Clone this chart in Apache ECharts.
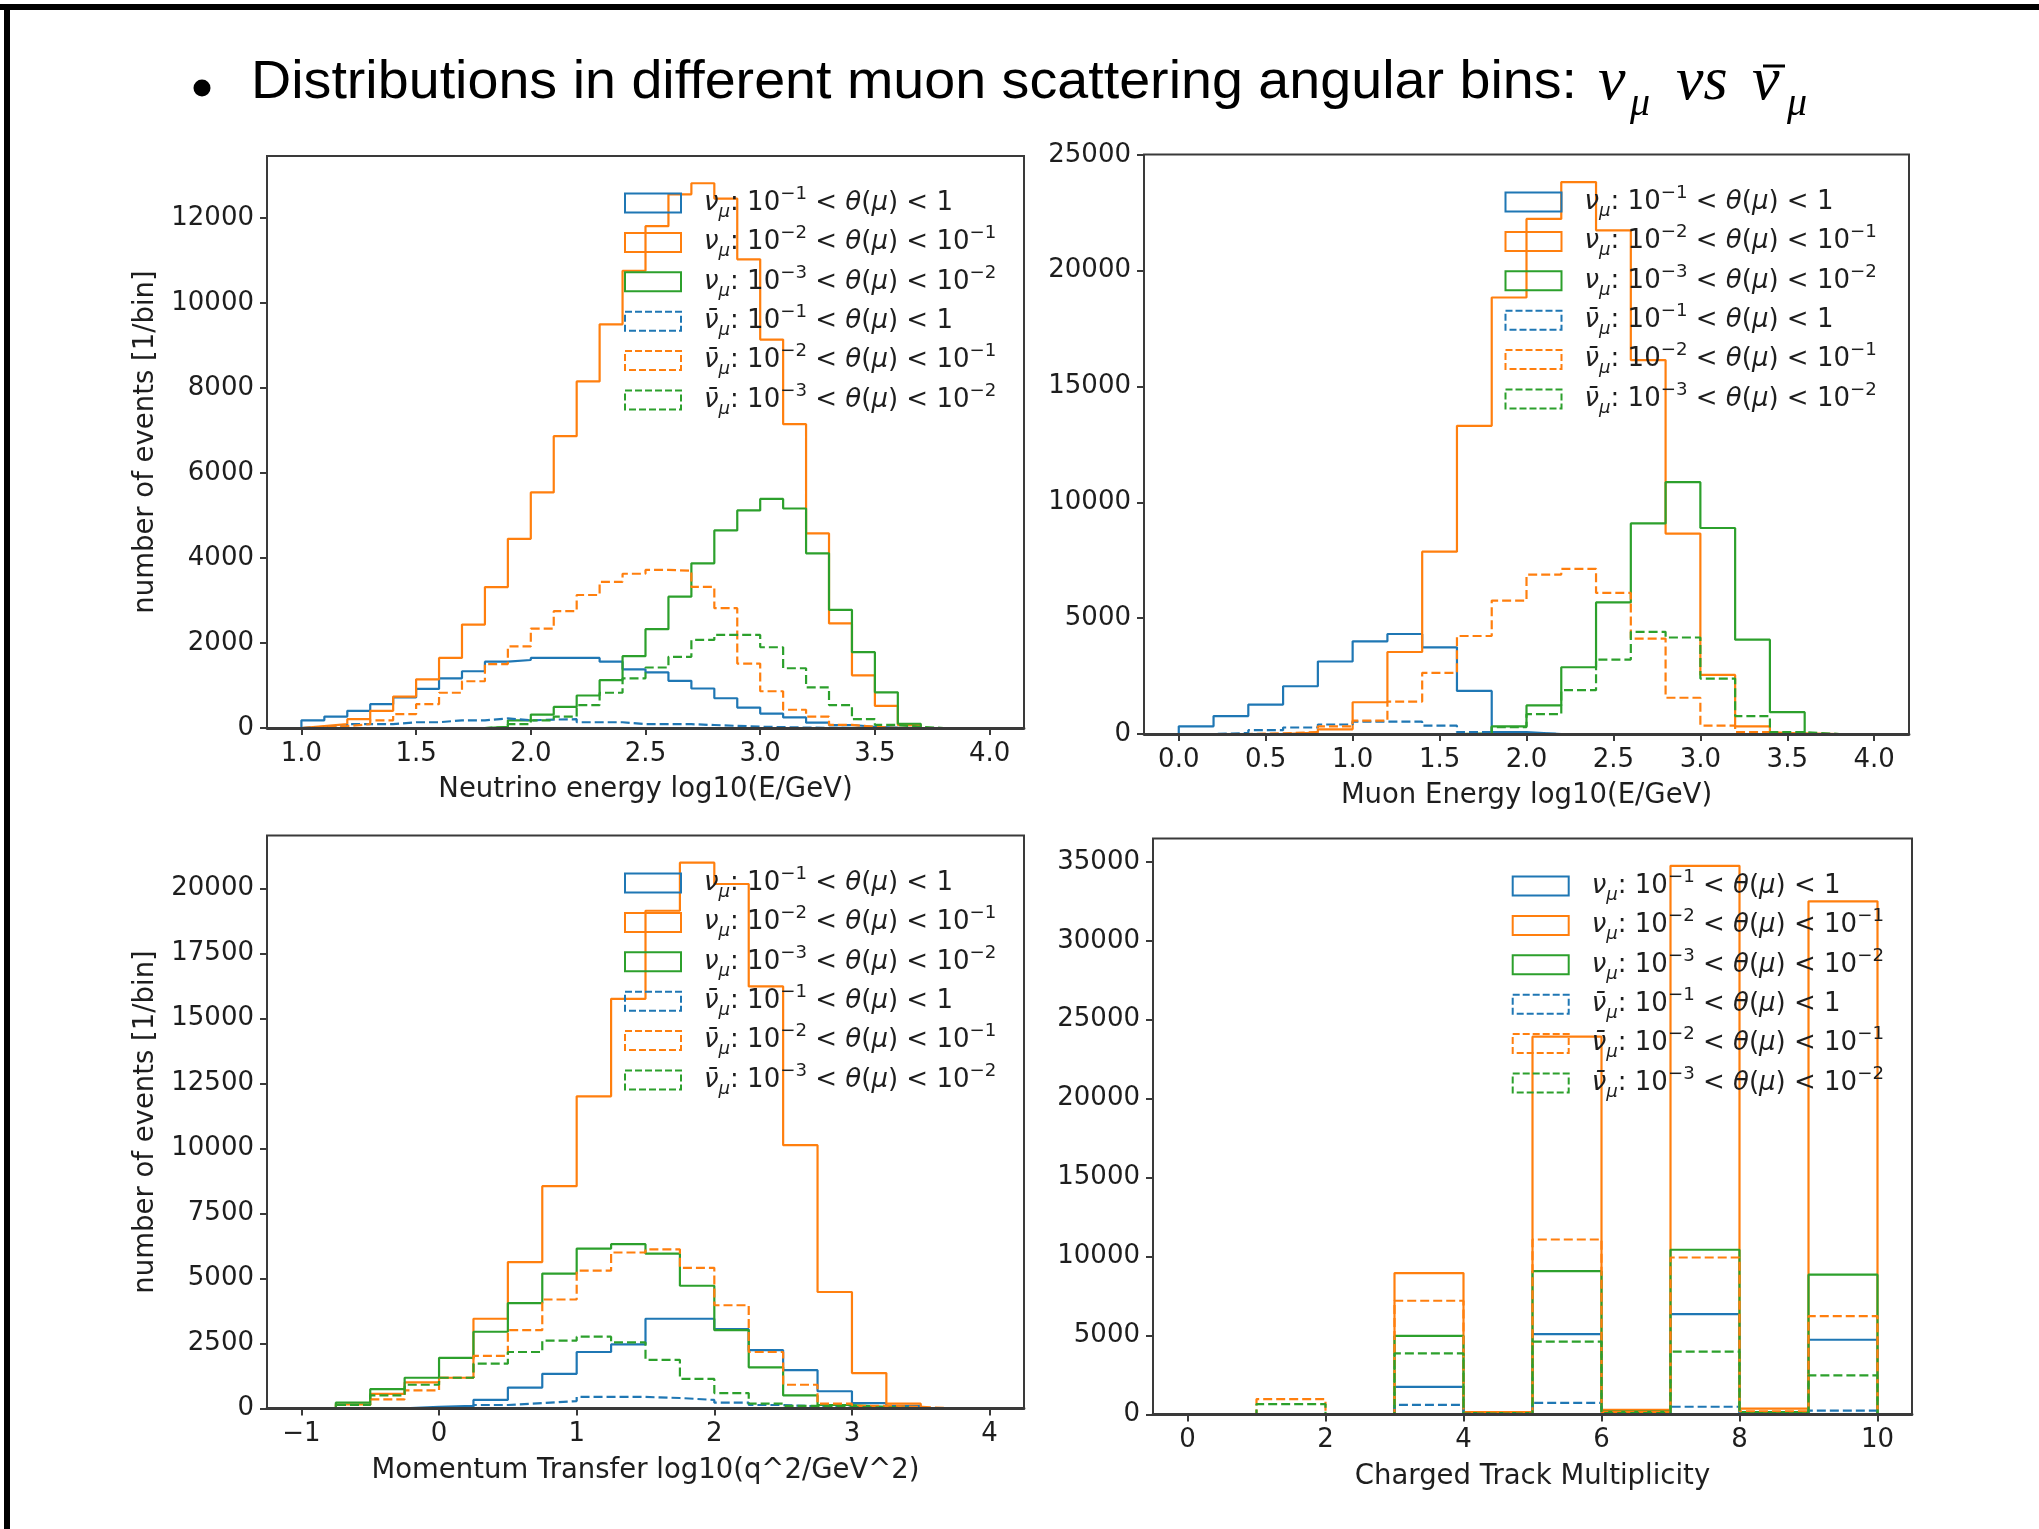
<!DOCTYPE html>
<html>
<head>
<meta charset="utf-8">
<script src="https://cdn.jsdelivr.net/npm/echarts@6/dist/echarts.min.js"></script>
<style>
  html, body { margin: 0; padding: 0; background: #ffffff; }
  #main { width: 2039px; height: 1529px; }
</style>
</head>
<body>
<div id="main"></div>
<script>
// ---------- Neutrino energy, log10(E/GeV), 0.1 bins ----------
const enuEdges = [1.0,1.1,1.2,1.3,1.4,1.5,1.6,1.7,1.8,1.9,2.0,2.1,2.2,2.3,2.4,2.5,2.6,2.7,2.8,2.9,3.0,3.1,3.2,3.3,3.4,3.5,3.6,3.7,3.8,3.9,4.0];
const enuNuWide    = [180,270,405,560,720,920,1170,1335,1560,1600,1650,1650,1650,1560,1380,1310,1110,930,700,480,340,250,125,70,30,10,0,0,0,0];
const enuNuMid     = [45,90,207,405,740,1145,1650,2434,3317,4452,5543,6868,8157,9500,10760,11810,12560,12820,12460,11030,9140,7150,4580,2460,1240,520,70,0,0,0];
const enuNuNarrow  = [0,0,0,0,0,0,0,0,30,180,315,495,765,1125,1690,2325,3090,3875,4650,5120,5390,5165,4110,2780,1785,840,100,0,0,0];
const enuNubWide   = [18,36,90,90,135,135,180,180,225,180,198,207,135,135,90,90,90,70,50,30,20,10,5,0,0,0,0,0,0,0];
const enuNubMid    = [27,45,90,180,325,560,830,1100,1505,1920,2340,2750,3130,3440,3630,3720,3700,3320,2820,1515,865,430,270,72,27,0,0,0,0,0];
const enuNubNarrow = [0,0,0,0,0,0,0,0,20,90,180,270,540,830,1170,1424,1676,2073,2190,2190,1900,1406,955,540,207,72,27,0,0,0];

// ---------- Muon energy, log10(E/GeV), 0.2 bins ----------
const emuEdges = [0.0,0.2,0.4,0.6,0.8,1.0,1.2,1.4,1.6,1.8,2.0,2.2,2.4,2.6,2.8,3.0,3.2,3.4,3.6,3.8,4.0];
const emuNuWide    = [330,775,1270,2060,3130,4000,4315,3740,1860,80,0,0,0,0,0,0,0,0,0,0];
const emuNuMid     = [0,0,0,60,200,1370,3540,7870,13300,18840,22230,23820,21740,16140,8650,2550,330,30,0,0];
const emuNuNarrow  = [0,0,0,0,0,0,0,0,30,330,1235,2880,5680,9090,10870,8890,4070,940,0,0];
const emuNubWide   = [0,40,165,280,410,530,530,360,80,10,0,0,0,0,0,0,0,0,0,0];
const emuNubMid    = [0,0,30,80,330,575,1400,2640,4230,5760,6880,7130,6090,4120,1565,360,80,0,0,0];
const emuNubNarrow = [0,0,0,0,0,0,0,0,0,300,855,1890,3210,4410,4165,2390,775,80,0,0];

// ---------- Momentum transfer, log10(q^2/GeV^2), 0.25 bins ----------
const q2Edges = [-1.0,-0.75,-0.5,-0.25,0.0,0.25,0.5,0.75,1.0,1.25,1.5,1.75,2.0,2.25,2.5,2.75,3.0,3.25,3.5,3.75,4.0];
const q2NuWide    = [0,0,0,60,100,325,800,1330,2170,2460,3450,3450,3050,2240,1470,660,200,100,0,0];
const q2NuMid     = [0,150,560,1000,1180,3450,5630,8550,12010,15760,19150,21000,20180,16240,10130,4480,1360,180,0,0];
const q2NuNarrow  = [0,220,740,1180,1945,2950,4050,5190,6150,6320,5955,4720,3010,1580,500,130,60,0,0,0];
const q2NubWide   = [0,0,0,0,30,130,205,280,440,440,400,325,220,130,75,30,15,0,0,0];
const q2NubMid    = [0,130,350,690,1180,2020,3010,4190,5300,6000,6120,5410,3970,2170,910,180,100,60,0,0];
const q2NubNarrow = [0,130,500,910,1180,1720,2170,2610,2760,2540,1870,1135,590,180,100,60,30,0,0,0];

// ---------- Charged track multiplicity, unit bins ----------
const multEdges = [0,1,2,3,4,5,6,7,8,9,10];
const multNuWide    = [0,0,0,1745,30,5090,60,6350,60,4730];
const multNuMid     = [0,0,0,8950,150,23930,290,34750,360,32500];
const multNuNarrow  = [0,0,0,4970,80,9070,170,10430,150,8850];
const multNubWide   = [0,0,0,605,10,730,20,485,20,240];
const multNubMid    = [0,970,0,7200,100,11080,150,9940,200,6230];
const multNubNarrow = [0,655,0,3860,50,4610,80,3980,80,2470];

// ---------- tick positions ----------
const enuTicksX  = [1.0,1.5,2.0,2.5,3.0,3.5,4.0];
const enuTicksY  = [0,2000,4000,6000,8000,10000,12000];
const emuTicksX  = [0.0,0.5,1.0,1.5,2.0,2.5,3.0,3.5,4.0];
const emuTicksY  = [0,5000,10000,15000,20000,25000];
const q2TicksX   = [-1,0,1,2,3,4];
const q2TicksY   = [0,2500,5000,7500,10000,12500,15000,17500,20000];
const multTicksX = [0,2,4,6,8,10];
const multTicksY = [0,5000,10000,15000,20000,25000,30000,35000];

// ---------- series identity ----------
const seriesNames = [
  'nu_mu wide', 'nu_mu mid', 'nu_mu narrow',
  'nubar_mu wide', 'nubar_mu mid', 'nubar_mu narrow'
];
const seriesColors = ['#1f77b4', '#ff7f0e', '#2ca02c', '#1f77b4', '#ff7f0e', '#2ca02c'];
const seriesDashed = [false, false, false, true, true, true];
const legendLabels = [
  '{it0|ν}{sub|μ}{n|: 10}{sup|−1}{n| < }{it|θ}{n|(}{it|μ}{n|) < 1}',
  '{it0|ν}{sub|μ}{n|: 10}{sup|−2}{n| < }{it|θ}{n|(}{it|μ}{n|) < 10}{sup|−1}',
  '{it0|ν}{sub|μ}{n|: 10}{sup|−3}{n| < }{it|θ}{n|(}{it|μ}{n|) < 10}{sup|−2}',
  '{it0|ν̄}{sub|μ}{n|: 10}{sup|−1}{n| < }{it|θ}{n|(}{it|μ}{n|) < 1}',
  '{it0|ν̄}{sub|μ}{n|: 10}{sup|−2}{n| < }{it|θ}{n|(}{it|μ}{n|) < 10}{sup|−1}',
  '{it0|ν̄}{sub|μ}{n|: 10}{sup|−3}{n| < }{it|θ}{n|(}{it|μ}{n|) < 10}{sup|−2}'
];

const panels = [
  { edges: enuEdges,  sets: [enuNuWide, enuNuMid, enuNuNarrow, enuNubWide, enuNubMid, enuNubNarrow],
    ticksX: enuTicksX, ticksY: enuTicksY, xMin: 0.85, xMax: 4.15,
    xName: 'Neutrino energy log10(E/GeV)', yName: 'number of events [1/bin]',
    fmtX: v => v.toFixed(1),
    grid: { left: 267, top: 156, width: 757, height: 572 }, legend: { left: 624, top: 185 } },
  { edges: emuEdges,  sets: [emuNuWide, emuNuMid, emuNuNarrow, emuNubWide, emuNubMid, emuNubNarrow],
    ticksX: emuTicksX, ticksY: emuTicksY, xMin: -0.2, xMax: 4.2,
    xName: 'Muon Energy log10(E/GeV)', yName: '',
    fmtX: v => v.toFixed(1),
    grid: { left: 1144, top: 154.5, width: 765, height: 579.5 }, legend: { left: 1504.5, top: 184 } },
  { edges: q2Edges,   sets: [q2NuWide, q2NuMid, q2NuNarrow, q2NubWide, q2NubMid, q2NubNarrow],
    ticksX: q2TicksX, ticksY: q2TicksY, xMin: -1.25, xMax: 4.25,
    xName: 'Momentum Transfer log10(q^2/GeV^2)', yName: 'number of events [1/bin]',
    fmtX: v => (v < 0 ? '\u2212' + Math.abs(v) : String(v)),
    grid: { left: 267, top: 835.4, width: 757, height: 573 }, legend: { left: 624, top: 865 } },
  { edges: multEdges, sets: [multNuWide, multNuMid, multNuNarrow, multNubWide, multNubMid, multNubNarrow],
    ticksX: multTicksX, ticksY: multTicksY, xMin: -0.5, xMax: 10.5,
    xName: 'Charged Track Multiplicity', yName: '',
    fmtX: v => String(v),
    grid: { left: 1153, top: 838.4, width: 759, height: 576 }, legend: { left: 1511.7, top: 868 } }
];

// Outline of a step histogram: up the first edge, across each bin, down the last edge.
function stepOutline(edges, counts) {
  const pts = [[edges[0], 0]];
  for (let i = 0; i < counts.length; i++) {
    pts.push([edges[i], counts[i]]);
    pts.push([edges[i + 1], counts[i]]);
  }
  pts.push([edges[counts.length], 0]);
  return pts;
}

const FONT = 'DejaVu Sans';
const TEXT = '#1e1e1e';
const SPINE = '#3a3a3a';
const LINE_W = 2.2;
const DASH = [9, 4];

const legendRich = {
  it:  { fontFamily: FONT, fontStyle: 'italic', fontSize: 26, lineHeight: 36, color: TEXT },
  it0: { fontFamily: FONT, fontStyle: 'italic', fontSize: 26, lineHeight: 36, color: TEXT, padding: [0, 0, 0, 18] },
  n:   { fontFamily: FONT, fontSize: 26, lineHeight: 36, color: TEXT },
  sub: { fontFamily: FONT, fontStyle: 'italic', fontSize: 18.2, lineHeight: 20.6, verticalAlign: 'bottom', color: TEXT },
  sup: { fontFamily: FONT, fontSize: 18.2, lineHeight: 19.4, verticalAlign: 'top', color: TEXT }
};

const grids = [], xAxes = [], yAxes = [], series = [], legends = [];

panels.forEach((p, k) => {
  grids.push(Object.assign({ show: true, borderColor: SPINE, borderWidth: 2,
    backgroundColor: 'transparent', containLabel: false, outerBoundsMode: 'none' }, p.grid));

  const peak = Math.max.apply(null, p.sets.map(s => Math.max.apply(null, s)));

  // bottom spine is drawn above the histograms, so empty bins sit under it
  xAxes.push({
    type: 'value', gridIndex: k, min: p.xMin, max: p.xMax, z: 5,
    axisLine: { show: true, onZero: false, lineStyle: { color: SPINE, width: 2.8 } },
    axisTick: { show: true, length: 7, lineStyle: { color: SPINE, width: 2 }, customValues: p.ticksX },
    axisLabel: { customValues: p.ticksX, formatter: p.fmtX, fontFamily: FONT, fontSize: 26, color: TEXT, margin: 13 },
    splitLine: { show: false },
    name: p.xName, nameLocation: 'middle', nameGap: 48, nameMoveOverlap: false,
    nameTextStyle: { fontFamily: FONT, fontSize: 27.5, color: TEXT }
  });

  yAxes.push({
    type: 'value', gridIndex: k, min: 0, max: peak * 1.05,
    axisLine: { show: false, onZero: false },
    axisTick: { show: true, length: 7, lineStyle: { color: SPINE, width: 2 }, customValues: p.ticksY },
    axisLabel: { customValues: p.ticksY, formatter: v => String(v), fontFamily: FONT, fontSize: 26, color: TEXT, margin: 13 },
    splitLine: { show: false },
    name: p.yName, nameLocation: 'middle', nameGap: 107, nameRotate: 90, nameMoveOverlap: false,
    nameTextStyle: { fontFamily: FONT, fontSize: 27.5, color: TEXT }
  });

  p.sets.forEach((counts, i) => {
    series.push({
      name: seriesNames[i], type: 'line', xAxisIndex: k, yAxisIndex: k,
      data: stepOutline(p.edges, counts),
      symbol: 'none', showSymbol: false, smooth: false, silent: true,
      lineStyle: { color: seriesColors[i], width: LINE_W, type: seriesDashed[i] ? DASH : 'solid' },
      itemStyle: { color: seriesColors[i] },
      emphasis: { disabled: true }
    });
  });

  legends.push({
    orient: 'vertical', left: p.legend.left, top: p.legend.top, padding: 0,
    itemWidth: 56, itemHeight: 19, itemGap: 3.4, selectedMode: false,
    data: seriesNames.map((n, i) => ({
      name: n, icon: 'rect',
      itemStyle: { color: 'rgba(0,0,0,0)', borderColor: seriesColors[i], borderWidth: 2,
                   borderType: seriesDashed[i] ? [7, 3] : 'solid' }
    })),
    formatter: n => legendLabels[seriesNames.indexOf(n)],
    textStyle: { fontFamily: FONT, fontSize: 26, lineHeight: 36, color: TEXT, rich: legendRich }
  });
});

// Slide heading with bullet and the neutrino / antineutrino symbols
const heading = [
  { type: 'rect', shape: { x: 0, y: 4, width: 2039, height: 6 }, style: { fill: '#000' }, silent: true },
  { type: 'rect', shape: { x: 4, y: 4, width: 6, height: 1525 }, style: { fill: '#000' }, silent: true },
  { type: 'circle', shape: { cx: 202, cy: 88, r: 8.5 }, style: { fill: '#000' }, silent: true },
  { type: 'text', x: 251, y: 83, scaleX: 1.05, silent: true,
    style: { text: 'Distributions in different muon scattering angular bins:', fontFamily: 'Liberation Sans',
             fontSize: 53, fill: '#000', verticalAlign: 'middle', align: 'left' } },
  { type: 'text', x: 1598, y: 83, silent: true,
    style: { text: 'ν', fontFamily: 'Liberation Serif', fontStyle: 'italic', fontSize: 62, fill: '#000', verticalAlign: 'middle' } },
  { type: 'text', x: 1630, y: 104, silent: true,
    style: { text: 'μ', fontFamily: 'Liberation Serif', fontStyle: 'italic', fontSize: 40, fill: '#000', verticalAlign: 'middle' } },
  { type: 'text', x: 1676, y: 83, silent: true,
    style: { text: 'vs', fontFamily: 'Liberation Serif', fontStyle: 'italic', fontSize: 62, fill: '#000', verticalAlign: 'middle' } },
  { type: 'text', x: 1752, y: 83, silent: true,
    style: { text: 'ν', fontFamily: 'Liberation Serif', fontStyle: 'italic', fontSize: 62, fill: '#000', verticalAlign: 'middle' } },
  { type: 'line', shape: { x1: 1763, y1: 66, x2: 1785, y2: 66 }, style: { stroke: '#000', lineWidth: 3 }, silent: true },
  { type: 'text', x: 1787, y: 104, silent: true,
    style: { text: 'μ', fontFamily: 'Liberation Serif', fontStyle: 'italic', fontSize: 40, fill: '#000', verticalAlign: 'middle' } }
];

const chart = echarts.init(document.getElementById('main'), null, { renderer: 'canvas' });
chart.setOption({
  animation: false,
  backgroundColor: '#ffffff',
  grid: grids,
  xAxis: xAxes,
  yAxis: yAxes,
  legend: legends,
  series: series,
  graphic: heading
});
</script>
</body>
</html>
